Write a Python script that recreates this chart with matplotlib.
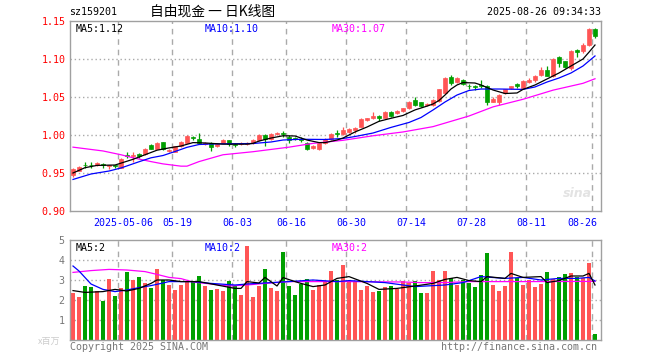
import matplotlib
matplotlib.use('Agg')
import matplotlib.pyplot as plt
import numpy as np

# ---------------- data ----------------
opens = [0.947, 0.953, 0.961, 0.961, 0.960, 0.962, 0.959, 0.960, 0.957, 0.974,
         0.973, 0.975, 0.975, 0.987, 0.982, 0.991, 0.979, 0.978, 0.985, 0.990,
         0.997, 0.995, 0.988, 0.990, 0.985, 0.990, 0.993, 0.988, 0.988, 0.988,
         0.989, 0.993, 1.000, 0.995, 1.001, 1.002, 0.998, 0.996, 0.995, 0.989,
         0.983, 0.982, 0.989, 0.995, 1.002, 1.001, 1.004, 1.006, 1.011, 1.020,
         1.022, 1.025, 1.023, 1.030, 1.029, 1.031, 1.035, 1.046, 1.043, 1.039,
         1.039, 1.045, 1.055, 1.076, 1.070, 1.073, 1.065, 1.064, 1.066, 1.064,
         1.044, 1.044, 1.055, 1.062, 1.067, 1.062, 1.070, 1.072, 1.079, 1.086,
         1.077, 1.102, 1.097, 1.088, 1.112, 1.110, 1.118, 1.139]
closes = [0.955, 0.958, 0.960, 0.960, 0.963, 0.960, 0.960, 0.959, 0.969, 0.973,
          0.974, 0.972, 0.982, 0.982, 0.990, 0.981, 0.980, 0.985, 0.991, 0.999,
          0.996, 0.989, 0.990, 0.984, 0.988, 0.993, 0.988, 0.987, 0.990, 0.990,
          0.994, 1.000, 0.995, 1.001, 1.003, 1.001, 0.993, 0.995, 0.993, 0.982,
          0.986, 0.989, 0.995, 1.001, 1.001, 1.007, 1.008, 1.009, 1.021, 1.022,
          1.025, 1.022, 1.030, 1.025, 1.032, 1.035, 1.044, 1.040, 1.038, 1.041,
          1.046, 1.060, 1.075, 1.068, 1.075, 1.067, 1.064, 1.063, 1.065, 1.044,
          1.048, 1.053, 1.060, 1.064, 1.064, 1.071, 1.073, 1.078, 1.086, 1.078,
          1.100, 1.095, 1.090, 1.111, 1.109, 1.118, 1.140, 1.130]
highs = [0.956, 0.959, 0.964, 0.964, 0.964, 0.963, 0.961, 0.961, 0.970, 0.977,
         0.977, 0.976, 0.983, 0.988, 0.991, 0.991, 0.981, 0.986, 0.992, 1.000,
         0.999, 1.002, 0.991, 0.991, 0.989, 0.995, 0.994, 0.989, 0.991, 0.991,
         0.995, 1.001, 1.001, 1.003, 1.004, 1.005, 1.000, 0.997, 0.997, 0.991,
         0.987, 0.990, 0.996, 1.002, 1.006, 1.010, 1.009, 1.010, 1.022, 1.023,
         1.030, 1.026, 1.031, 1.031, 1.033, 1.036, 1.045, 1.050, 1.044, 1.042,
         1.047, 1.061, 1.076, 1.079, 1.076, 1.074, 1.067, 1.066, 1.072, 1.066,
         1.050, 1.054, 1.061, 1.065, 1.068, 1.072, 1.075, 1.079, 1.090, 1.091,
         1.101, 1.104, 1.098, 1.112, 1.113, 1.121, 1.141, 1.141]
lows = [0.945, 0.952, 0.957, 0.957, 0.959, 0.956, 0.955, 0.956, 0.956, 0.970,
        0.964, 0.970, 0.974, 0.981, 0.981, 0.980, 0.977, 0.977, 0.984, 0.989,
        0.993, 0.988, 0.987, 0.979, 0.984, 0.989, 0.986, 0.984, 0.987, 0.987,
        0.988, 0.992, 0.986, 0.994, 1.000, 0.998, 0.990, 0.993, 0.991, 0.980,
        0.982, 0.980, 0.988, 0.994, 0.998, 1.000, 1.003, 1.002, 1.010, 1.019,
        1.021, 1.019, 1.022, 1.024, 1.028, 1.030, 1.034, 1.038, 1.037, 1.038,
        1.038, 1.044, 1.054, 1.066, 1.068, 1.066, 1.061, 1.059, 1.062, 1.040,
        1.043, 1.040, 1.054, 1.060, 1.062, 1.060, 1.069, 1.070, 1.078, 1.077,
        1.076, 1.090, 1.088, 1.086, 1.103, 1.108, 1.117, 1.128]
volumes = [2.37, 2.17, 2.72, 2.63, 2.45, 1.95, 3.05, 2.20, 2.62, 3.42,
           3.00, 3.17, 2.87, 2.62, 3.55, 3.00, 2.75, 2.50, 2.75, 2.92,
           2.92, 3.20, 2.70, 2.50, 2.53, 2.45, 2.97, 2.70, 2.25, 4.70,
           2.17, 2.70, 3.55, 2.58, 2.45, 4.42, 2.70, 2.25, 2.80, 3.03,
           2.50, 2.75, 2.92, 3.47, 3.00, 3.75, 2.92, 2.92, 2.50, 2.70,
           2.42, 2.45, 2.63, 2.70, 2.55, 2.95, 2.83, 2.95, 2.37, 2.37,
           3.45, 3.00, 3.45, 3.08, 2.75, 3.00, 2.83, 2.67, 3.25, 4.37,
           2.75, 2.45, 2.70, 4.42, 3.08, 2.75, 3.00, 2.67, 2.80, 3.38,
           3.03, 3.13, 3.30, 3.33, 3.17, 3.08, 3.87, 0.30]

# moving-average lines (bar index, value)
ma5_idx = [0, 2, 4, 7, 8, 10, 12, 14, 16, 18, 20, 22, 25, 29, 30, 31, 33, 35, 37, 39,
           41, 42, 44, 45, 47, 49, 51, 53, 55, 57, 59, 60, 61, 62, 63, 64, 65, 67, 68, 70,
           72, 74, 75, 77, 79, 81, 83, 85, 86, 87]
ma5_val = [0.950, 0.957, 0.960, 0.9605, 0.963, 0.968, 0.974, 0.980, 0.983, 0.9855,
           0.990, 0.9895, 0.988, 0.988, 0.989, 0.992, 0.996, 0.999, 0.9987, 0.9934,
           0.990, 0.990, 0.9934, 0.996, 1.004, 1.0105, 1.018, 1.022, 1.0257, 1.033,
           1.038, 1.0408, 1.0454, 1.0526, 1.0605, 1.0658, 1.069, 1.0684, 1.0658, 1.0592,
           1.0546, 1.0553, 1.060, 1.0658, 1.0737, 1.0816, 1.0908, 1.100, 1.109, 1.1184]
ma10_idx = [0, 3, 6, 8, 11, 13, 15, 17, 19, 21, 23, 30, 33, 35, 38, 42, 45, 47, 50, 53,
            56, 58, 60, 62, 64, 66, 68, 71, 75, 77, 79, 81, 83, 85, 86, 87]
ma10_val = [0.9415, 0.9487, 0.9526, 0.9566, 0.9648, 0.970, 0.973, 0.9783, 0.9838, 0.9875,
            0.9882, 0.9888, 0.9908, 0.9934, 0.9944, 0.9941, 0.9954, 0.998, 1.0026, 1.010,
            1.0165, 1.023, 1.0329, 1.0434, 1.0526, 1.0586, 1.0605, 1.0605, 1.060, 1.0632,
            1.0697, 1.075, 1.0816, 1.0908, 1.0974, 1.104]
ma30_idx = [0, 5, 8, 10, 13, 15, 18, 19, 21, 25, 30, 33, 36, 40, 45, 50, 55, 60, 63, 66,
            70, 75, 80, 85, 87]
ma30_val = [0.984, 0.979, 0.974, 0.970, 0.965, 0.962, 0.959, 0.959, 0.965, 0.974,
            0.978, 0.981, 0.984, 0.989, 0.993, 0.999, 1.004, 1.011, 1.018, 1.025,
            1.037, 1.047, 1.059, 1.068, 1.074]

vma5_idx = [0, 2, 5, 7, 9, 11, 13, 14, 16, 18, 21, 24, 27, 28, 29, 31, 32, 34, 35, 37,
            38, 40, 42, 44, 46, 49, 51, 54, 57, 60, 62, 64, 66, 68, 69, 72, 73, 75, 78, 79,
            81, 83, 85, 86, 87]
vma5_val = [2.47, 2.38, 2.42, 2.53, 2.45, 2.58, 2.83, 3.00, 3.00, 2.92, 2.92, 2.75, 2.58,
            2.58, 2.92, 2.85, 3.13, 2.70, 3.12, 2.92, 2.83, 2.67, 2.75, 3.08, 3.17, 2.83,
            2.53, 2.58, 2.70, 2.83, 3.03, 3.13, 2.97, 2.92, 3.17, 3.08, 3.33, 3.13, 3.17,
            2.87, 2.97, 3.20, 3.20, 3.33, 2.75]
vma10_idx = [0, 1, 3, 5, 7, 9, 11, 13, 15, 16, 20, 23, 27, 29, 36, 40, 44, 46, 52, 57,
             62, 65, 68, 72, 75, 78, 81, 84, 86, 87]
vma10_val = [3.70, 3.45, 2.80, 2.53, 2.42, 2.50, 2.62, 2.72, 2.85, 2.92, 2.92, 2.83, 2.75,
             2.80, 2.92, 3.00, 2.92, 2.97, 2.87, 2.67, 2.75, 2.87, 3.17, 3.08, 3.13, 3.00,
             3.08, 3.08, 3.13, 2.95]
vma30_idx = [0, 3, 6, 9, 12, 14, 16, 18, 20, 23, 26, 29, 32, 36, 45, 55, 58, 62, 66, 75, 87]
vma30_val = [3.38, 3.47, 3.53, 3.50, 3.42, 3.28, 3.13, 3.07, 2.90, 2.80, 2.70, 2.75, 2.83,
             2.92, 2.92, 2.90, 2.87, 2.87, 2.92, 2.92, 2.93]

date_idx = [8, 17, 27, 36, 46, 56, 66, 76, 87]
date_labels = ['2025-05-06', '05-19', '06-03', '06-16', '06-30', '07-14', '07-28', '08-11', '08-26']
price_ticks = [0.90, 0.95, 1.00, 1.05, 1.10, 1.15]
vol_ticks = [1, 2, 3, 4, 5]

# ---------------- style ----------------
RED = '#ff5555'
GREEN = '#009f00'
MONO = 'DejaVu Sans Mono'
FS = 7.2
GRID = '#aaaaaa'
FRAME = '#a0a0a0'

W, H = 660, 360
fig = plt.figure(figsize=(W / 100, H / 100), dpi=100)
fig.patch.set_facecolor('white')

def px_axes(l, t, r, b):
    return fig.add_axes([l / W, 1 - b / H, (r - l) / W, (b - t) / H])

ax = px_axes(70, 21, 601, 211)
axv = px_axes(70, 240, 601, 340)

n = len(closes)
x = np.arange(n)
o = np.array(opens); c = np.array(closes); h = np.array(highs); lo = np.array(lows)
up = c >= o
cols = np.where(up, RED, GREEN)

for a in (ax, axv):
    a.set_xlim(-0.5, 88)
    for s in a.spines.values():
        s.set_color(FRAME)
        s.set_linewidth(1.0)
    a.tick_params(length=0)
    a.set_xticks([])
    for d in date_idx:
        a.axvline(d - 0.5, color=GRID, lw=1.0, ls=(0, (4, 3.5)), zorder=0)

# price panel
ax.set_ylim(0.90, 1.15)
ax.set_yticks(price_ticks)
ax.set_yticklabels([f'{t:.2f}' for t in price_ticks], color='#ff0000',
                   fontfamily=MONO, fontsize=FS)
ax.tick_params(axis='y', pad=3)
for t in price_ticks[1:-1]:
    ax.axhline(t, color=GRID, lw=1.0, ls=(0, (1, 2)), zorder=0)

ax.vlines(x, lo, h, colors=cols, lw=0.9, zorder=2)
body_b = np.minimum(o, c)
body_h = np.maximum(np.abs(c - o), 0.0004)
ax.bar(x, body_h, bottom=body_b, width=0.78, color=cols, edgecolor=cols, lw=0.5, zorder=3)

ax.plot(ma30_idx, ma30_val, color='#ff00ff', lw=0.9, zorder=4)
ax.plot(ma10_idx, ma10_val, color='#0000ff', lw=0.9, zorder=4)
ax.plot(ma5_idx, ma5_val, color='#000000', lw=0.9, zorder=4)

ax.text(0.01, 0.985, 'MA5:1.12', transform=ax.transAxes, ha='left', va='top',
        fontfamily=MONO, fontsize=FS, color='black')
ax.text((205 - 70) / 531, 0.985, 'MA10:1.10', transform=ax.transAxes, ha='left', va='top',
        fontfamily=MONO, fontsize=FS, color='#0000ff')
ax.text((332 - 70) / 531, 0.985, 'MA30:1.07', transform=ax.transAxes, ha='left', va='top',
        fontfamily=MONO, fontsize=FS, color='#ff00ff')

for d, lab in zip(date_idx, date_labels):
    if d == date_idx[-1]:
        ax.text(1.0 - 4 / 531, -0.035, lab, transform=ax.transAxes, ha='right', va='top',
                fontfamily=MONO, fontsize=FS, color='#0000ff')
    else:
        ax.annotate(lab, xy=(d - 0.5, 0.90), xycoords='data', xytext=(4, -5),
                    textcoords='offset points', ha='center', va='top',
                    fontfamily=MONO, fontsize=FS, color='#0000ff', annotation_clip=False)

# watermark
ax.text(0.955, 0.09, 'sina', transform=ax.transAxes, ha='center', va='center',
        fontsize=9, fontweight='bold', style='italic', color='#e3e3e3', zorder=1)

# volume panel
axv.set_ylim(0, 5)
axv.set_yticks(vol_ticks)
axv.set_yticklabels([str(t) for t in vol_ticks], color='#777777', fontfamily=MONO, fontsize=FS)
axv.tick_params(axis='y', pad=4)
for t in vol_ticks[:-1]:
    axv.axhline(t, color=GRID, lw=1.0, ls=(0, (1, 2)), zorder=0)
axv.bar(x, volumes, width=0.78, color=cols, lw=0, zorder=2)
axv.plot(vma30_idx, vma30_val, color='#ff00ff', lw=0.9, zorder=4)
axv.plot(vma10_idx, vma10_val, color='#0000ff', lw=0.9, zorder=4)
axv.plot(vma5_idx, vma5_val, color='#000000', lw=0.9, zorder=4)
axv.text(0.01, 0.97, 'MA5:2', transform=axv.transAxes, ha='left', va='top',
         fontfamily=MONO, fontsize=FS, color='black')
axv.text((205 - 70) / 531, 0.97, 'MA10:2', transform=axv.transAxes, ha='left', va='top',
         fontfamily=MONO, fontsize=FS, color='#0000ff')
axv.text((332 - 70) / 531, 0.97, 'MA30:2', transform=axv.transAxes, ha='left', va='top',
         fontfamily=MONO, fontsize=FS, color='#ff00ff')

# header & footer
fig.text(69 / W, 1 - 12 / H, 'sz159201', ha='left', va='center', fontfamily=MONO,
         fontsize=FS, color='black')
fig.text(213 / W, 1 - 12 / H, '自由现金 一 日K线图', ha='center', va='center',
         fontfamily=['Noto Sans CJK SC', 'DejaVu Sans'], fontsize=9.9, color='black')
fig.text(601 / W, 1 - 12 / H, '2025-08-26 09:34:33', ha='right', va='center',
         fontfamily=MONO, fontsize=FS, color='black')
fig.text(70 / W, 1 - 347 / H, 'Copyright 2025 SINA.COM', ha='left', va='center',
         fontfamily=MONO, fontsize=FS, color='#777777')
fig.text(597 / W, 1 - 347 / H, 'http://finance.sina.com.cn', ha='right', va='center',
         fontfamily=MONO, fontsize=FS, color='#777777')
fig.text(38 / W, 1 - 341 / H, 'x百万', ha='left', va='center',
         fontfamily=['Noto Sans CJK SC', 'DejaVu Sans'], fontsize=6.5, color='#cccccc')

fig.savefig('out.png', dpi=100, facecolor='white')
